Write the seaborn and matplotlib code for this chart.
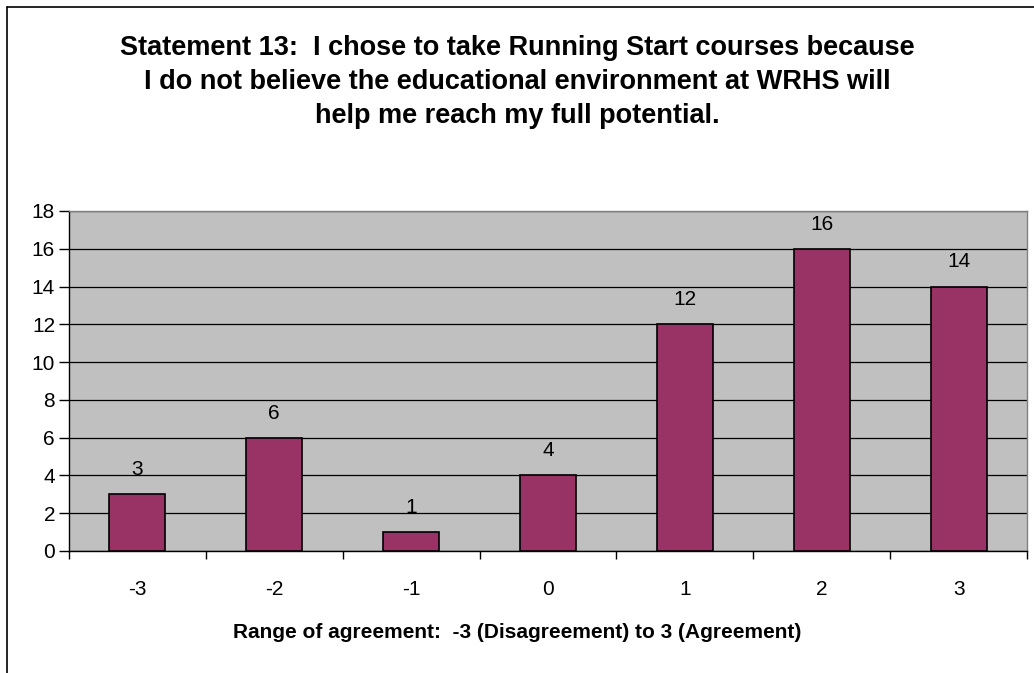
import matplotlib
matplotlib.use("Agg")
import matplotlib.pyplot as plt
import seaborn as sns
import pandas as pd
from matplotlib.lines import Line2D

# values
agreement = ["-3", "-2", "-1", "0", "1", "2", "3"]
counts = [3, 6, 1, 4, 12, 16, 14]

title = ("Statement 13:  I chose to take Running Start courses because\n"
         "I do not believe the educational environment at WRHS will\n"
         "help me reach my full potential.")
xlabel = "Range of agreement:  -3 (Disagreement) to 3 (Agreement)"

df = pd.DataFrame({"agreement": agreement, "count": counts})

sns.set_style("white")
plt.rcParams["font.family"] = ["Liberation Sans", "DejaVu Sans"]
plt.rcParams["text.color"] = "black"
plt.rcParams["axes.labelcolor"] = "black"
plt.rcParams["xtick.color"] = "black"
plt.rcParams["ytick.color"] = "black"

fig = plt.figure(figsize=(10.34, 6.73), dpi=100)
ax = fig.add_axes([69 / 1034, 1 - 551 / 673, (1027 - 69) / 1034, (551 - 211) / 673])
ax.set_facecolor("#C0C0C0")

sns.barplot(data=df, x="agreement", y="count", color="#993366",
            width=0.41, edgecolor="black", linewidth=1.2, saturation=1, ax=ax, zorder=3)

for i, v in enumerate(counts):
    ax.text(i, v + 0.8, str(v), ha="center", va="bottom", fontsize=15, zorder=4)

ax.set_ylim(0, 18)
ax.set_xlim(-0.5, len(agreement) - 0.5)
ax.set_yticks(range(0, 19, 2))
ax.yaxis.grid(True, color="black", linewidth=0.9)
ax.set_axisbelow(True)
ax.tick_params(axis="y", labelsize=15, length=7, width=1, color="black", left=True, pad=3)
ax.tick_params(axis="x", which="major", labelsize=15, length=0, pad=21)
ax.set_xticks([i - 0.5 for i in range(len(agreement) + 1)], minor=True)
ax.tick_params(axis="x", which="minor", length=6, width=1, color="black", bottom=True)

for side in ["top", "right"]:
    ax.spines[side].set_color("#808080")
    ax.spines[side].set_linewidth(1)
for side in ["left", "bottom"]:
    ax.spines[side].set_color("black")
    ax.spines[side].set_linewidth(1)

ax.set_ylabel("")
ax.set_xlabel(xlabel, fontsize=15, fontweight="bold")
# centred on the whole chart, not just the plot area
ax.xaxis.set_label_coords((517 - 69) / 958, -(623 - 551) / 340)

fig.text(0.5, 1 - 82 / 673, title, ha="center", va="center", fontsize=19.5,
         fontweight="bold", linespacing=1.42)

# outer chart frame (left and top edges visible)
fig.add_artist(Line2D([7 / 1034, 7 / 1034], [0, 1 - 7 / 673], color="black", linewidth=1.2))
fig.add_artist(Line2D([7 / 1034, 1], [1 - 7 / 673, 1 - 7 / 673], color="black", linewidth=1.2))

fig.savefig("out.png", dpi=100)
